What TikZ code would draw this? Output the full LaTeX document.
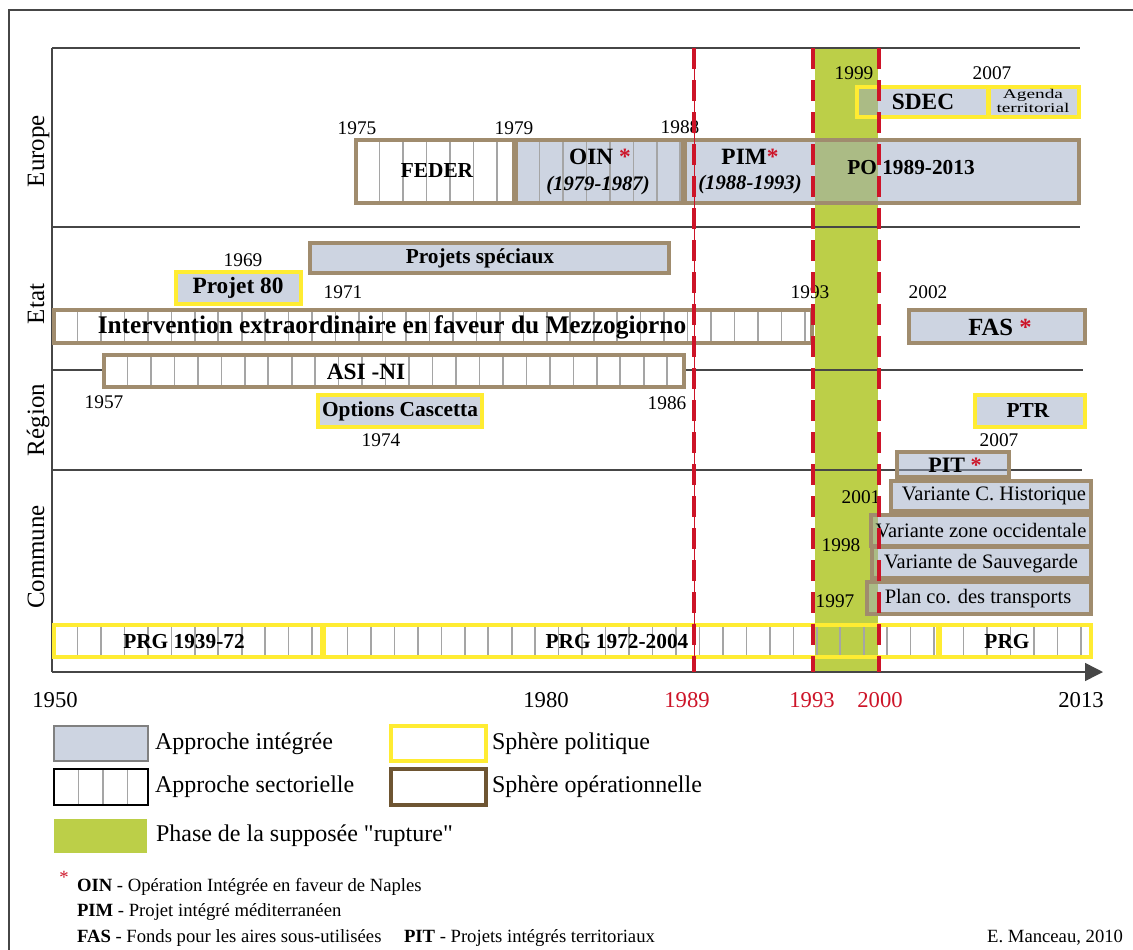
\documentclass[tikz,border=0pt]{standalone}
\usepackage{graphicx}
\usepackage{fontspec}
\setmainfont{Liberation Serif}
\newfontfamily\rawfont[Ligatures=TeXOff]{Liberation Serif}
\usetikzlibrary{fit,arrows.meta}
\definecolor{boxbrown}{RGB}{160,140,110}
\definecolor{darkbrown}{RGB}{110,85,50}
\definecolor{greyfill}{RGB}{205,212,225}
\definecolor{greyfillD}{RGB}{155,169,195}
\definecolor{polyellow}{RGB}{255,236,50}
\definecolor{rupgreen}{RGB}{188,207,72}
\definecolor{redc}{RGB}{205,20,40}
\definecolor{linec}{RGB}{70,70,70}
\definecolor{stripec}{RGB}{165,165,165}
\begin{document}
\begin{tikzpicture}[x=0.75pt,y=-0.75pt,
  every node/.style={inner sep=0pt, outer sep=0pt},
  chartline/.style={linec, line width=1.1pt},
  bx/.style={inner sep=0pt, line width=3pt},
  op/.style={bx, draw=boxbrown},
  pol/.style={bx, draw=polyellow},
  integ/.style={fill=greyfillD, fill opacity=0.5, text opacity=1},
  wfill/.style={fill=white},
  stripes/.style={path picture={\foreach \i in {1,...,46} {\draw[stripec, line width=1.2pt] ([xshift=\i*#1]path picture bounding box.south west) -- ([xshift=\i*#1]path picture bounding box.north west);}}},
  sect/.style={stripes=17.6pt},
  yr/.style={font=\fontsize{14.5}{16}\selectfont},
  ax/.style={font=\fontsize{17}{19}\selectfont},
  lab/.style={font=\fontsize{16}{18}\selectfont\bfseries},
  bigl/.style={font=\fontsize{17.5}{19}\selectfont\bfseries},
  itl/.style={font=\fontsize{15.5}{17}\selectfont\bfseries\itshape},
  var/.style={font=\fontsize{15.4}{17}\selectfont},
  row/.style={font=\fontsize{18.7}{20}\selectfont, rotate=90, anchor=base},
  leg/.style={font=\fontsize{18}{20}\selectfont, anchor=west},
  note/.style={font=\fontsize{14}{16}\selectfont, anchor=west},
  reddash/.style={redc, line width=3pt, dash pattern=on 16pt off 8pt}
]
\useasboundingbox (0,0) rectangle (1133,950);

% outer frame
\draw[linec, line width=0.9pt] (9,950) -- (9,10) -- (1133,10);

% green rupture band
\fill[rupgreen] (815,48) rectangle (878,672);

% chart lines
\coordinate (ytop) at (52,48);
\coordinate (ybot) at (52,672);
\coordinate (xend) at (1103,672);
\draw[chartline] (ytop) -- (ybot);
\draw[chartline] (52,48) -- (1080,48);
\draw[chartline] (52,227) -- (1080,227);
\draw[chartline] (52,370) -- (1083,370);
\draw[chartline] (52,470) -- (1082,470);
\draw[chartline, -{Triangle[length=13.5pt, width=13.5pt]}] (ybot) -- (xend);

% row labels
\node[row] (rEurope) at (44,151) {Europe};
\node[row] (rEtat) at (44,304) {Etat};
\node[row] (rRegion) at (44,420) {Région};
\node[row] (rCommune) at (44,557) {Commune};

% ---------- Europe ----------
\node[op, wfill, sect, fit={(356,140) (514,203)}] (feder) {};
\node[lab] (federT) at (437,171) {FEDER};
\node[op, integ, sect, fit={(516,140) (683,203)}] (oin) {};
\node[op, integ, fit={(685,140) (1079,203)}] (po) {};
\node[bigl] (oinT) at (600,157) {OIN \textcolor{redc}{*}};
\node[itl] (oinY) at (598,186) {(1979-1987)};
\node[bigl] (pimT) at (750,157) {PIM\textcolor{redc}{*}};
\node[itl] (pimY) at (750,185) {(1988-1993)};
\node[lab] (poT) at (911,168) {PO 1989-2013};
\node[pol, integ, fit={(857,87) (988,117)}] (sdec) {};
\node[bigl] (sdecT) at (923,102) {SDEC};
\node[pol, integ, fit={(989,87) (1079,117)}] (agenda) {};
\node[font=\fontsize{10}{10.5}\selectfont] (agendaT) at (1033,103) {\scalebox{1.45}[1]{\begin{tabular}{@{}c@{}}Agenda\\territorial\end{tabular}}};
\node[yr] (y1975) at (357,128) {1975};
\node[yr] (y1979) at (514,128) {1979};
\node[yr] (y1988) at (680,127) {1988};
\node[yr] (y1999) at (854,73) {1999};
\node[yr] (y2007a) at (992,73) {2007};

% ---------- Etat ----------
\node[op, integ, fit={(310,243) (669,273)}] (projsp) {};
\node[lab] (projspT) at (480,258) {Projets spéciaux};
\node[pol, integ, fit={(176,272) (301,304)}] (projet80) {};
\node[bigl] (projet80T) at (238,288) {Projet 80};
\node[op, wfill, sect, fit={(54,310) (812,343)}] (interv) {};
\node[font=\fontsize{19}{21}\selectfont\bfseries] (intervT) at (392,327) {Intervention extraordinaire en faveur du Mezzogiorno};
\node[op, integ, fit={(909,310) (1085,343)}] (fas) {};
\node[font=\fontsize{18.5}{20}\selectfont\bfseries] (fasT) at (1000,327) {FAS \textcolor{redc}{*}};
\node[yr] (y1969) at (243,260) {1969};
\node[yr] (y1971) at (343,292) {1971};
\node[yr] (y1993a) at (810,292) {1993};
\node[yr] (y2002) at (928,292) {2002};

% ---------- Region ----------
\node[op, wfill, sect, fit={(104,355) (684,387)}] (asini) {};
\node[bigl] (asiniT) at (366,372) {ASI -NI};
\node[pol, integ, fit={(318,395) (482,427)}] (cascetta) {};
\node[lab] (cascettaT) at (400,411) {Options Cascetta};
\node[pol, integ, fit={(975,395) (1085,427)}] (ptr) {};
\node[lab] (ptrT) at (1028,411) {PTR};
\node[op, integ, fit={(897,452) (1009,477)}] (pit) {};
\node[font=\fontsize{16.5}{18}\selectfont\bfseries] (pitT) at (955,465) {PIT \textcolor{redc}{*}};
\node[yr] (y1957) at (104,402) {1957};
\node[yr] (y1986) at (667,403) {1986};
\node[yr] (y1974) at (381,440) {1974};
\node[yr] (y2007b) at (999,440) {2007};

% ---------- Commune ----------
\node[op, integ, fit={(891,481) (1091,511)}] (vch) {};
\node[var] (vchT) at (994,496) {Variante C. Historique};
\node[op, integ, fit={(871,515) (1091,546)}] (vzo) {};
\node[var] (vzoT) at (981,531) {Variante zone occidentale};
\node[op, integ, fit={(872,547) (1091,578)}] (vsa) {};
\node[var] (vsaT) at (981,564) {Variante de Sauvegarde};
\node[op, integ, fit={(867,582) (1091,614)}] (plan) {};
\node[var] (planT) at (978,599) {Plan co. des transports};
\node[yr] (y2001) at (861,497) {2001};
\node[yr] (y1998) at (841,545) {1998};
\node[yr] (y1997) at (835,601) {1997};
\node[pol, sect, fit={(54,625) (322,657)}] (prg1) {};
\node[pol, sect, fit={(324,625) (938,657)}] (prg2) {};
\node[pol, sect, fit={(940,625) (1091,657)}] (prg3) {};
\node[lab] (prg1T) at (184,642) {PRG 1939-72};
\node[lab] (prg2T) at (617,642) {PRG 1972-2004};
\node[lab] (prg3T) at (1007,642) {PRG};

% red dashed lines
\draw[redc, line width=0.4pt] (694,48) -- (694,672);
\draw[reddash] (694,48) -- (694,672);
\draw[reddash] (813,48) -- (813,672);
\draw[reddash] (879,48) -- (879,672);

% axis labels
\node[ax] (a1950) at (55,700) {1950};
\node[ax] (a1980) at (546,700) {1980};
\node[ax, text=redc] (a1989) at (687,700) {1989};
\node[ax, text=redc] (a1993) at (812,700) {1993};
\node[ax, text=redc] (a2000) at (880,700) {2000};
\node[ax] (a2013) at (1081,700) {2013};

% ---------- Legend ----------
\node[fill=greyfill, draw=gray, line width=1.5pt, fit={(54,726) (148,761)}] (lg1) {};
\node[leg] (lg1T) at (155,744) {Approche intégrée};
\node[draw=black, line width=1.2pt, stripes=18.4pt, fit={(54,769) (148,805)}] (lg2) {};
\node[leg] (lg2T) at (155,787) {Approche sectorielle};
\node[draw=polyellow, line width=3pt, fit={(391,726) (486,761)}] (lg3) {};
\node[leg] (lg3T) at (492,744) {Sphère politique};
\node[draw=darkbrown, line width=3pt, fit={(391,769) (486,805)}] (lg4) {};
\node[leg] (lg4T) at (492,787) {Sphère opérationnelle};
\node[fill=rupgreen, fit={(54,819) (147,853)}] (lg5) {};
\node[leg] (lg5T) at (156,836) {Phase de la supposée {\rawfont "}rupture{\rawfont "}};

% notes
\node[font=\fontsize{14}{16}\selectfont, text=redc] (nast) at (64,877) {*};
\node[note] (n1) at (77,887) {\textbf{OIN} - Opération Intégrée en faveur de Naples};
\node[note] (n2) at (77,912) {\textbf{PIM} - Projet intégré méditerranéen};
\node[note] (n3) at (77,938) {\textbf{FAS} - Fonds pour les aires sous-utilisées};
\node[note] (n4) at (404,938) {\textbf{PIT} - Projets intégrés territoriaux};
\node[font=\fontsize{14}{16}\selectfont, anchor=east] (auth) at (1123,938) {E. Manceau, 2010};
\end{tikzpicture}
\end{document}
